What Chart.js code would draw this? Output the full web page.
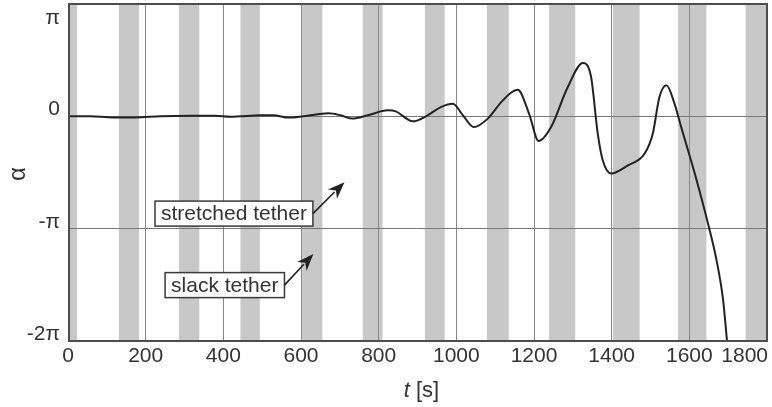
<!DOCTYPE html>
<html>
<head>
<meta charset="utf-8">
<script src="https://cdn.jsdelivr.net/npm/chart.js@4.4.1/dist/chart.umd.min.js"></script>
<style>
  html, body { margin: 0; padding: 0; background: #fff; }
</style>
</head>
<body>
<canvas id="chart" width="772" height="407"></canvas>
<script>
const PI = Math.PI;

// time axis [s] and angle alpha [rad]
const tValues = [0, 57, 114, 173, 237, 315, 379, 418, 444, 495, 529, 568, 606, 671, 702, 733, 772,
  823, 844, 888, 926, 960, 991, 1017, 1045, 1081, 1115, 1141, 1158, 1187, 1212, 1244, 1287, 1326,
  1347, 1364, 1377, 1399, 1442, 1485, 1506, 1523, 1541, 1562, 1579, 1614, 1648, 1670, 1687, 1697];
const alphaValues = [0, 0, -0.03, -0.03, 0, 0.014, 0.014, -0.014, 0, 0.028, 0.028, -0.036, 0, 0.084, 0.028, -0.064, 0.028,
  0.168, 0.14, -0.14, 0.028, 0.26, 0.355, 0.028, -0.30, -0.064, 0.39, 0.66, 0.745, 0.084, -0.69, -0.30, 0.82, 1.49,
  1.10, -0.47, -1.23, -1.60, -1.37, -1.04, -0.48, 0.54, 0.87, 0.35, -0.30, -1.60, -3.00, -4.02, -5.14, -6.28];

// slack-tether intervals (grey bands)
const bandStart = [0, 131, 286, 444, 603, 759, 919, 1079, 1239, 1403, 1571, 1745];
const bandEnd = [23, 183, 338, 494, 655, 810, 970, 1135, 1306, 1472, 1644, 1800];

const xTicks = [0, 200, 400, 600, 800, 1000, 1200, 1400, 1600, 1800];
const yTicks = [PI, 0, -PI, -2 * PI];
const yTickLabels = ["π", "0", "-π", "-2π"];

// annotations: box left edge / arrow tip in data units
const noteLabels = ["stretched tether", "slack tether"];
const noteBoxT = [224, 250];
const noteBoxAlpha = [-2.72, -4.72];
const noteTipT = [712, 632];
const noteTipAlpha = [-1.84, -3.85];

const FONT = "'Liberation Sans', Arial, sans-serif";
const TEXT = "#333";

const bandsPlugin = {
  id: "bands",
  beforeDraw(chart) {
    const { ctx, chartArea: a, scales: { x } } = chart;
    ctx.save();
    ctx.fillStyle = "#c8c8c8";
    bandStart.forEach((s, i) => {
      const x0 = x.getPixelForValue(s);
      const x1 = x.getPixelForValue(bandEnd[i]);
      ctx.fillRect(x0, a.top, x1 - x0, a.bottom - a.top);
    });
    ctx.restore();
  },
};

const decorPlugin = {
  id: "decor",
  afterDraw(chart) {
    const { ctx, chartArea: a, scales: { x, y } } = chart;
    ctx.save();

    // frame
    ctx.strokeStyle = "#4d4d4d";
    ctx.lineWidth = 2;
    ctx.strokeRect(a.left + 1, a.top, a.right - a.left - 1, a.bottom - a.top);

    // y tick labels, sitting on their grid line
    ctx.fillStyle = TEXT;
    ctx.font = "21px " + FONT;
    ctx.textAlign = "right";
    ctx.textBaseline = "alphabetic";
    yTicks.forEach((v, i) => {
      const py = Math.max(y.getPixelForValue(v) - 1, a.top + 20);
      ctx.fillText(yTickLabels[i], a.left - 8, py);
    });

    // x tick labels
    ctx.textBaseline = "top";
    xTicks.forEach((v, i) => {
      const px = x.getPixelForValue(v);
      const last = i === xTicks.length - 1;
      ctx.textAlign = last ? "right" : "center";
      ctx.fillText(String(v), last ? a.right + 1 : px, a.bottom + 5);
    });

    // axis titles
    ctx.textBaseline = "alphabetic";
    ctx.textAlign = "left";
    ctx.font = "italic 22px " + FONT;
    const tW = ctx.measureText("t").width;
    ctx.font = "22px " + FONT;
    const sW = ctx.measureText(" [s]").width;
    const cx = (a.left + a.right) / 2 + 4;
    const x0 = cx - (tW + sW) / 2;
    ctx.font = "italic 22px " + FONT;
    ctx.fillText("t", x0, 397);
    ctx.font = "22px " + FONT;
    ctx.fillText(" [s]", x0 + tW, 397);

    ctx.save();
    ctx.translate(18, 174);
    ctx.rotate(-PI / 2);
    ctx.textAlign = "center";
    ctx.textBaseline = "middle";
    ctx.font = "24px " + FONT;
    ctx.fillText("α", 0, 0);
    ctx.restore();

    // annotation boxes with arrows
    ctx.font = "21px " + FONT;
    noteLabels.forEach((label, i) => {
      const bx = x.getPixelForValue(noteBoxT[i]);
      const by = y.getPixelForValue(noteBoxAlpha[i]);
      const w = ctx.measureText(label).width + 12;
      const h = 25;
      ctx.fillStyle = "#fff";
      ctx.fillRect(bx, by - h / 2, w, h);
      ctx.strokeStyle = "#3a3a3a";
      ctx.lineWidth = 1.5;
      ctx.strokeRect(bx, by - h / 2, w, h);
      ctx.fillStyle = TEXT;
      ctx.textAlign = "left";
      ctx.textBaseline = "middle";
      ctx.fillText(label, bx + 6, by + 1);

      const sx = bx + w, sy = by;
      const tx = x.getPixelForValue(noteTipT[i]);
      const ty = y.getPixelForValue(noteTipAlpha[i]);
      const ang = Math.atan2(ty - sy, tx - sx);
      const len = 17, half = 6.5;
      const bxh = tx - len * Math.cos(ang), byh = ty - len * Math.sin(ang);
      ctx.strokeStyle = "#222";
      ctx.lineWidth = 1.6;
      ctx.beginPath();
      ctx.moveTo(sx, sy);
      ctx.lineTo(bxh + 3 * Math.cos(ang), byh + 3 * Math.sin(ang));
      ctx.stroke();
      ctx.fillStyle = "#222";
      ctx.beginPath();
      ctx.moveTo(tx, ty);
      ctx.lineTo(bxh + half * Math.sin(ang), byh - half * Math.cos(ang));
      ctx.lineTo(tx - (len - 5) * Math.cos(ang), ty - (len - 5) * Math.sin(ang));
      ctx.lineTo(bxh - half * Math.sin(ang), byh + half * Math.cos(ang));
      ctx.closePath();
      ctx.fill();
    });

    ctx.restore();
  },
};

new Chart(document.getElementById("chart"), {
  type: "line",
  data: {
    datasets: [
      {
        data: tValues.map((t, i) => ({ x: t, y: alphaValues[i] })),
        borderColor: "#222",
        borderWidth: 2,
        pointRadius: 0,
        cubicInterpolationMode: "monotone",
      },
    ],
  },
  options: {
    responsive: false,
    animation: false,
    layout: { padding: { left: 68, top: 4, right: 5, bottom: 66 } },
    plugins: { legend: { display: false }, tooltip: { enabled: false } },
    scales: {
      x: {
        type: "linear",
        min: 0,
        max: 1800,
        afterBuildTicks: (s) => { s.ticks = xTicks.map((v) => ({ value: v })); },
        ticks: { display: false },
        grid: { color: "#888", lineWidth: 1, drawTicks: false },
        border: { display: false },
      },
      y: {
        type: "linear",
        min: -2 * PI,
        max: PI,
        afterBuildTicks: (s) => { s.ticks = yTicks.map((v) => ({ value: v })); },
        ticks: { display: false },
        grid: { color: "#777", lineWidth: 1, drawTicks: false },
        border: { display: false },
      },
    },
  },
  plugins: [bandsPlugin, decorPlugin],
});
</script>
</body>
</html>
